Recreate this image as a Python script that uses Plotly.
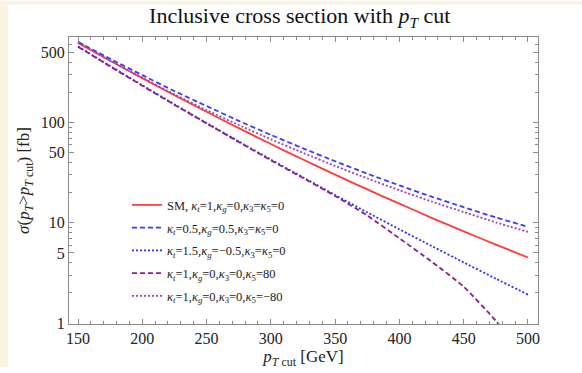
import plotly.graph_objects as go

# Transverse-momentum cut values (GeV)
pt_cut = [150, 175, 200, 225, 250, 275, 300, 325, 350, 375, 400, 425, 450, 475, 500]

# Inclusive cross sections sigma(pT > pT cut) in fb
sigma_sm = [623, 413, 277, 187, 128, 88, 61, 42.7, 30.2, 21.5, 15.5, 11.2, 8.2, 6.06, 4.5]
sigma_kt05_kg05 = [637, 432, 297, 206, 146, 104, 75.3, 55.3, 41.1, 30.9, 23.6, 18.2, 14.3, 11.3, 9.1]
sigma_kt15_kgm05 = [573, 366, 235, 152, 99, 64.8, 42.7, 28.4, 18.9, 12.7, 8.6, 5.87, 4.02, 2.77, 1.92]
sigma_k5_p80 = [570, 363, 233, 150, 98, 64.0, 42.0, 28.0, 18.5, 11.8, 7.0, 4.1, 2.3, 1.05, 0.4]
sigma_k5_m80 = [637, 416, 279, 191, 133, 94.4, 68.1, 49.8, 36.9, 27.7, 21.1, 16.3, 12.8, 10.1, 8.1]

series_names = [
    "SM, <i>κ</i><sub><i>t</i></sub>=1,<i>κ</i><sub><i>g</i></sub>=0,<i>κ</i><sub>3</sub>=<i>κ</i><sub>5</sub>=0",
    "<i>κ</i><sub><i>t</i></sub>=0.5,<i>κ</i><sub><i>g</i></sub>=0.5,<i>κ</i><sub>3</sub>=<i>κ</i><sub>5</sub>=0",
    "<i>κ</i><sub><i>t</i></sub>=1.5,<i>κ</i><sub><i>g</i></sub>=−0.5,<i>κ</i><sub>3</sub>=<i>κ</i><sub>5</sub>=0",
    "<i>κ</i><sub><i>t</i></sub>=1,<i>κ</i><sub><i>g</i></sub>=0,<i>κ</i><sub>3</sub>=0,<i>κ</i><sub>5</sub>=80",
    "<i>κ</i><sub><i>t</i></sub>=1,<i>κ</i><sub><i>g</i></sub>=0,<i>κ</i><sub>3</sub>=0,<i>κ</i><sub>5</sub>=−80",
]
series_values = [sigma_sm, sigma_kt05_kg05, sigma_kt15_kgm05, sigma_k5_p80, sigma_k5_m80]
series_colors = ["#ff3b3b", "#3a3aff", "#2e2eff", "#8a1f8a", "#a040b0"]
series_dash = ["solid", "5px,3px", "2px,2px", "5px,3px", "2px,2px"]

x_ticks = [150, 200, 250, 300, 350, 400, 450, 500]
y_ticks = [1, 5, 10, 50, 100, 500]
y_minor = [2, 3, 4, 6, 7, 8, 9, 20, 30, 40, 60, 70, 80, 90, 200, 300, 400, 600, 700]

SERIF = "Liberation Serif, Times New Roman, serif"
FRAME = "#8c8c8c"

fig = go.Figure()
for i, (name, vals, col, dash) in enumerate(zip(series_names, series_values, series_colors, series_dash)):
    fig.add_trace(go.Scatter(
        x=pt_cut, y=vals, mode="lines", name=name,
        legendgroup=f"g{i}",
        line=dict(color=col, width=1.8, dash=dash, shape="spline", smoothing=0.6),
    ))

fig.update_layout(
    width=582, height=373,
    margin=dict(l=69, r=44, t=37, b=44),
    paper_bgcolor="white",
    plot_bgcolor="white",
    font=dict(family=SERIF, color="#222222"),
    title=dict(
        text="Inclusive cross section with <i>p</i><sub><i>T</i></sub> cut",
        x=0.515, xanchor="center", y=0.958, yanchor="middle",
        font=dict(size=22, family=SERIF, color="#111111"),
    ),
    showlegend=True,
    legend=dict(
        x=(127 - 69) / 469, y=1 - (193 - 37) / 292, xanchor="left", yanchor="top",
        bgcolor="rgba(0,0,0,0)", borderwidth=0,
        font=dict(size=12.5, family=SERIF, color="#222222"),
        tracegroupgap=3.5, itemwidth=30,
    ),
    shapes=[
        # cream page border strips
        dict(type="rect", xref="paper", yref="paper", x0=-69 / 469, x1=(8 - 69) / 469,
             y0=-44 / 292, y1=1 + 37 / 292, fillcolor="#fcf4e2", line=dict(width=0), layer="below"),
        dict(type="rect", xref="paper", yref="paper", x0=-69 / 469, x1=1 + 44 / 469,
             y0=1 + 33 / 292, y1=1 + 37 / 292, fillcolor="#fcf4e2", line=dict(width=0), layer="below"),
    ],
)

fig.update_xaxes(
    range=[143, 507.8],
    tickvals=x_ticks, ticktext=[str(v) for v in x_ticks],
    ticks="inside", ticklen=5, tickcolor=FRAME, tickwidth=1,
    minor=dict(ticks="inside", ticklen=3, tickcolor=FRAME, dtick=10, tick0=150, showgrid=False),
    showline=True, linecolor=FRAME, linewidth=1, mirror="allticks",
    showgrid=False, zeroline=False,
    tickfont=dict(size=16, family=SERIF, color="#222222"),
    title=dict(text="<i>p</i><sub><i>T</i> cut</sub> [GeV]", font=dict(size=17, family=SERIF), standoff=2),
)
fig.update_yaxes(
    type="log", range=[-0.0098, 2.853],
    tickvals=y_ticks, ticktext=[str(v) for v in y_ticks],
    ticks="inside", ticklen=5, tickcolor=FRAME, tickwidth=1,
    minor=dict(ticks="inside", ticklen=3, tickcolor=FRAME, tickvals=y_minor, showgrid=False),
    showline=True, linecolor=FRAME, linewidth=1, mirror="allticks",
    showgrid=False, zeroline=False,
    tickfont=dict(size=16, family=SERIF, color="#222222"),
    title=dict(text="<i>σ</i>(<i>p</i><sub><i>T</i></sub>><i>p</i><sub><i>T</i> cut</sub>) [fb]",
               font=dict(size=17, family=SERIF), standoff=6),
)

fig.write_html("out.html")
